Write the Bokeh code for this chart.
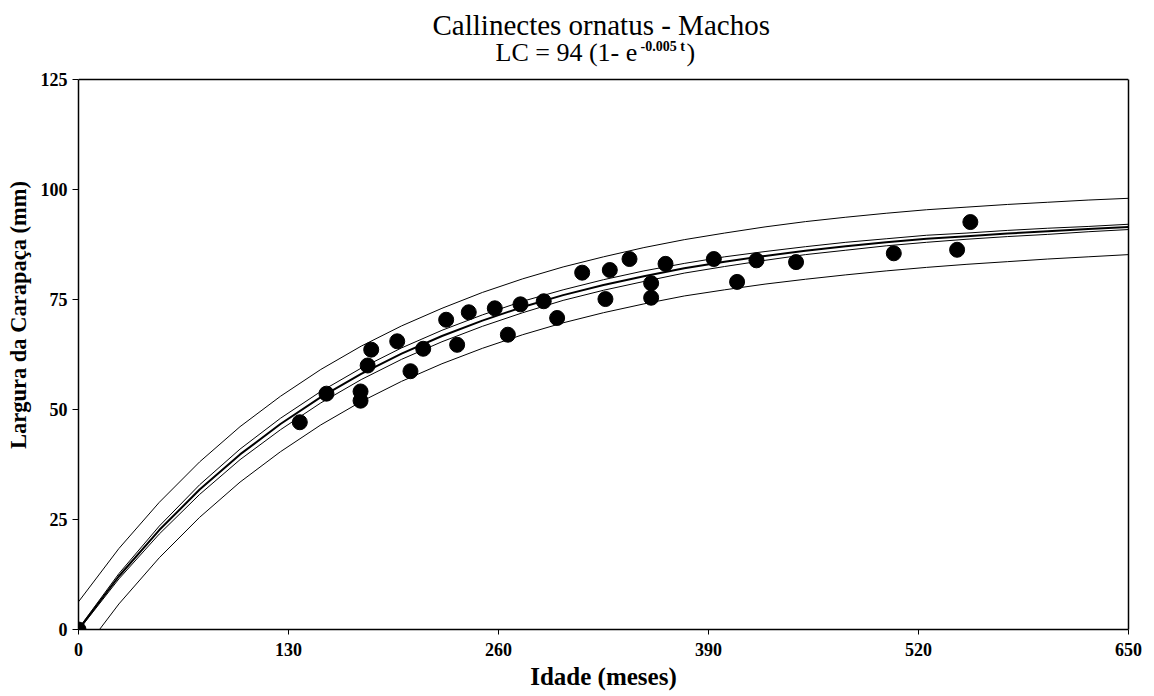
from bokeh.plotting import figure
from bokeh.models import Range1d, FixedTicker, Label, ColumnDataSource, LinearAxis, Span
from bokeh.embed import file_html
from bokeh.resources import INLINE

# Observed data: age (months) vs carapace width (mm)
idade = [0, 137, 153.5, 174.6, 174.6, 179, 181.2, 197.3, 205.5, 213.4, 227.6, 234.4,
         241.6, 257.7, 265.8, 273.6, 288, 296.3, 311.8, 326.2, 328.9, 341.1, 354.5,
         354.5, 363.4, 393.3, 407.7, 419.7, 444.2, 504.7, 543.9, 552.1]
largura = [0, 47.1, 53.6, 54.1, 52.0, 60.0, 63.6, 65.5, 58.7, 63.8, 70.4, 64.7,
           72.1, 73.0, 67.0, 73.9, 74.6, 70.8, 81.1, 75.1, 81.7, 84.2, 78.7,
           75.4, 83.1, 84.2, 79.0, 83.9, 83.5, 85.5, 86.3, 92.6]

# Curves at these ages
t_curve = [0, 25, 50, 75, 100, 125, 150, 175, 200, 225, 250, 275, 300, 325,
           350, 375, 400, 425, 450, 475, 500, 525, 550, 575, 600, 625, 650]
ajuste = [0, 12.1, 22.6, 31.8, 39.8, 46.7, 52.8, 58.1, 62.7, 66.7, 70.2, 73.3, 76.0,
          78.3, 80.3, 82.1, 83.6, 84.9, 86.1, 87.1, 88.0, 88.8, 89.4, 90.0, 90.5, 91.0, 91.5]
conf_sup = [0.2, 12.7, 23.5, 32.9, 41.0, 48.0, 54.1, 59.4, 64.0, 68.0, 71.5, 74.6, 77.2,
            79.5, 81.5, 83.2, 84.7, 85.9, 87.0, 88.0, 88.8, 89.6, 90.1, 90.7, 91.2, 91.6, 92.1]
conf_inf = [-0.2, 11.5, 21.7, 30.7, 38.6, 45.4, 51.5, 56.8, 61.4, 65.4, 68.9, 72.0, 74.8,
            77.1, 79.1, 81.0, 82.5, 83.9, 85.2, 86.2, 87.2, 88.0, 88.7, 89.3, 89.8, 90.4, 90.9]
pred_sup = [6.3, 18.4, 28.9, 38.1, 46.1, 53.0, 59.1, 64.4, 69.0, 73.0, 76.6, 79.7, 82.4,
            84.7, 86.8, 88.6, 90.1, 91.5, 92.7, 93.7, 94.6, 95.4, 96.0, 96.6, 97.1, 97.6, 98.0]
pred_inf = [-6.3, 5.8, 16.3, 25.5, 33.5, 40.4, 46.5, 51.8, 56.4, 60.4, 63.9, 67.0, 69.7,
            72.0, 74.0, 75.8, 77.2, 78.5, 79.6, 80.6, 81.5, 82.3, 83.0, 83.6, 84.2, 84.7, 85.2]

x_ticks = [0, 130, 260, 390, 520, 650]
y_ticks = [0, 25, 50, 75, 100, 125]
X_MAX, Y_MAX = 650, 125

# Layout (page pixels): plot box from x=78..1128, y=79..629; frame extended to the top
BOX_L, BOX_R, BOX_T, BOX_B = 78, 1128, 79, 629
W, H = 1150, 696
px_x = X_MAX / (BOX_R - BOX_L)
px_y = Y_MAX / (BOX_B - BOX_T)
y_top = Y_MAX + BOX_T * px_y

p = figure(width=W, height=H, output_backend="svg", toolbar_location=None,
           x_range=Range1d(0, X_MAX), y_range=Range1d(0, y_top),
           min_border_left=BOX_L, min_border_right=W - BOX_R, min_border_top=0,
           min_border_bottom=H - BOX_B)
p.title = None
p.grid.visible = False
p.background_fill_color = "white"
p.border_fill_color = "white"
p.outline_line_color = None

xax = p.xaxis[0]
yax = p.yaxis[0]

for ax, ticks in ((xax, x_ticks), (yax, y_ticks)):
    ax.ticker = FixedTicker(ticks=ticks)
    ax.minor_tick_line_color = None
    ax.major_tick_in = 0
    ax.axis_line_color = "black"
    ax.axis_line_width = 1.5
    ax.major_tick_line_color = "black"
    ax.major_label_text_font = "Liberation Serif"
    ax.major_label_text_font_style = "bold"
    ax.major_label_text_font_size = "18px"
    ax.major_label_text_color = "black"
    ax.axis_label_text_font = "Liberation Serif"
    ax.axis_label_text_font_style = "bold"
    ax.axis_label_text_color = "black"
yax.bounds = (0, Y_MAX)
xax.major_tick_out = 5
yax.major_tick_out = 6
xax.major_label_standoff = 8
yax.major_label_standoff = 5
xax.axis_label = "Idade (meses)"
xax.axis_label_text_font_size = "25px"
xax.axis_label_standoff = 4
yax.axis_label = "Largura da Carapaça (mm)"
yax.axis_label_text_font_size = "22.5px"
yax.axis_label_standoff = 7

# right and top edges of the box
right_ax = LinearAxis(bounds=(0, Y_MAX), ticker=FixedTicker(ticks=[]),
                      major_label_text_font_size="0px", axis_line_color="black",
                      axis_line_width=1.5, major_tick_line_color=None,
                      minor_tick_line_color=None, axis_label=None)
p.add_layout(right_ax, "right")
p.add_layout(Span(location=Y_MAX, dimension="width", line_color="black", line_width=1.5))

src = ColumnDataSource(dict(t=t_curve, fit=ajuste, cs=conf_sup, ci=conf_inf,
                            ps=pred_sup, pi=pred_inf))
p.line("t", "ps", source=src, line_color="black", line_width=1)
p.line("t", "pi", source=src, line_color="black", line_width=1)
p.line("t", "cs", source=src, line_color="black", line_width=1)
p.line("t", "ci", source=src, line_color="black", line_width=1)
p.line("t", "fit", source=src, line_color="black", line_width=2)

p.scatter(idade, largura, size=15, color="black")

# Title lines, placed by page pixel position
def lab(x, y, text, size, style="normal", align="left"):
    p.add_layout(Label(x=(x - BOX_L) * px_x, y=Y_MAX + (BOX_T - y) * px_y, text=text,
                       text_font="Times New Roman", text_font_size=size,
                       text_font_style=style, text_align=align, text_baseline="middle",
                       text_color="black"))

lab(432, 24, "Callinectes ornatus - Machos", "29px")
lab(495, 52, "LC = 94 (1- e", "26px")
lab(640, 46, "-0.005 t", "14px", style="bold")
lab(686, 52, ")", "26px")

open("out.html", "w").write(file_html(p, INLINE))
